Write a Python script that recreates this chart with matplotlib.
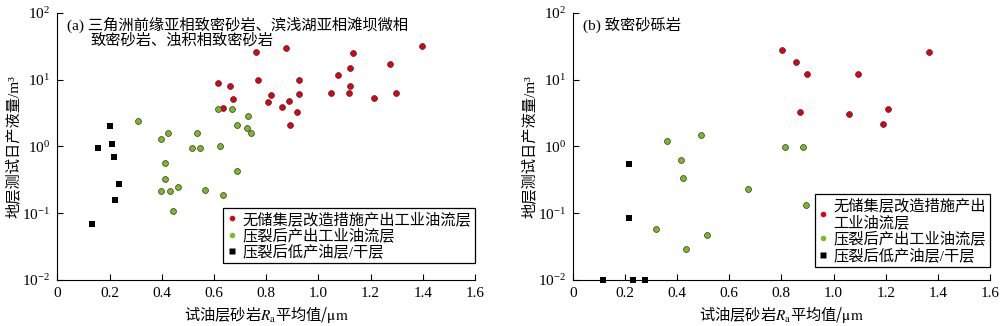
import matplotlib
matplotlib.use("Agg")
import matplotlib.pyplot as plt
from matplotlib.lines import Line2D

plt.rcParams['font.family'] = ['Liberation Serif', 'Noto Sans CJK SC']
plt.rcParams['mathtext.fontset'] = 'stix'
plt.rcParams['font.size'] = 11

##
## (a) sandstone: red = no stimulation, green = after fracturing, black = low/dry
##
a_red_x = [0.762, 0.876, 1.134, 1.396, 1.121, 1.275, 1.074, 0.617, 0.660, 0.770,
           0.925, 1.121, 0.674, 0.819, 0.927, 1.049, 1.116, 1.298, 1.213, 0.807,
           0.889, 0.861, 0.917, 0.634, 0.890]
a_red_y = [26.0, 29.9, 25.0, 32.0, 14.8, 17.2, 11.5, 8.9, 8.05, 9.9,
           9.8, 8.0, 5.2, 5.8, 6.0, 6.2, 6.3, 6.3, 5.3, 4.6,
           4.8, 3.95, 3.3, 3.77, 2.07]
a_green_x = [0.308, 0.614, 0.668, 0.732, 0.687, 0.726, 0.741, 0.396, 0.424, 0.534,
             0.517, 0.547, 0.622, 0.413, 0.690, 0.413, 0.464, 0.397, 0.431, 0.566,
             0.636, 0.444]
a_green_y = [2.38, 3.6, 3.64, 2.83, 2.07, 1.89, 1.56, 1.29, 1.59, 1.56,
             0.93, 0.93, 1.03, 0.57, 0.43, 0.33, 0.246, 0.217, 0.217, 0.22,
             0.187, 0.109]
a_black_x = [0.203, 0.211, 0.155, 0.216, 0.236, 0.222, 0.133]
a_black_y = [2.0, 1.10, 0.93, 0.70, 0.27, 0.155, 0.068]

##
## (b) conglomerate
##
b_red_x = [0.804, 0.856, 0.897, 1.366, 1.095, 0.873, 1.059, 1.209, 1.191]
b_red_y = [27.6, 18.2, 12.0, 25.5, 12.3, 3.28, 3.1, 3.6, 2.17]
b_green_x = [0.360, 0.492, 0.415, 0.815, 0.884, 0.422, 0.673, 0.893, 0.318, 0.514, 0.434]
b_green_y = [1.22, 1.47, 0.63, 0.98, 0.98, 0.336, 0.23, 0.132, 0.059, 0.048, 0.029]
b_black_x = [0.216, 0.217, 0.117, 0.232, 0.278]
b_black_y = [0.55, 0.086, 0.01, 0.01, 0.01]

labels = ['无储集层改造措施产出工业油流层', '压裂后产出工业油流层', '压裂后低产油层/干层']
labels_b = ['无储集层改造措施产出\n工业油流层', '压裂后产出工业油流层', '压裂后低产油层/干层']

red = '#e00010'
green = '#7dba1e'

fig = plt.figure(figsize=(10, 3.26), dpi=100)
ax_a = fig.add_axes([0.0573, 0.141, 0.4177, 0.820])
ax_b = fig.add_axes([0.5727, 0.141, 0.4173, 0.820])


def draw(ax, rx, ry, gx, gy, kx, ky, labs, leg_y):
    ax.scatter(rx, ry, s=18, c=red, edgecolors='#333333', linewidths=0.5, zorder=3, clip_on=False)
    ax.scatter(gx, gy, s=18, c=green, edgecolors='#333333', linewidths=0.5, zorder=3, clip_on=False)
    ax.scatter(kx, ky, s=18, c='black', marker='s', linewidths=0, zorder=3, clip_on=False)
    ax.set_yscale('log')
    ax.set_xlim(0, 1.6)
    ax.set_ylim(0.01, 100)
    ax.set_xticks([0, 0.2, 0.4, 0.6, 0.8, 1.0, 1.2, 1.4, 1.6])
    ax.set_xticklabels(['0', '0.2', '0.4', '0.6', '0.8', '1.0', '1.2', '1.4', '1.6'])
    ax.minorticks_off()
    ax.tick_params(direction='in', length=4, width=0.8, labelsize=11, pad=5)
    ax.spines['top'].set_visible(False)
    ax.spines['right'].set_visible(False)
    # mathtext uses the text's own family for the plain parts, so give it the CJK font
    ax.set_xlabel('试油层砂岩$R_\\mathrm{a}$平均值/$\\mathrm{\\mu m}$', fontsize=11,
                  labelpad=3, family='Noto Sans CJK SC')
    ax.set_ylabel('地层测试日产液量/m³', fontsize=11, labelpad=1)
    handles = [
        Line2D([], [], ls='none', marker='o', ms=4, mfc=red, mec='none'),
        Line2D([], [], ls='none', marker='o', ms=4, mfc=green, mec='none'),
        Line2D([], [], ls='none', marker='s', ms=4, mfc='black', mec='none'),
    ]
    leg = ax.legend(handles, labs, loc='lower right', bbox_to_anchor=(1.0, leg_y),
                    borderaxespad=0, fancybox=False, edgecolor='black', framealpha=1,
                    fontsize=11, handlelength=0.6, handletextpad=0.4, labelspacing=0.1,
                    borderpad=0.25)
    leg.get_frame().set_linewidth(0.9)


draw(ax_a, a_red_x, a_red_y, a_green_x, a_green_y, a_black_x, a_black_y, labels, 0.062)
draw(ax_b, b_red_x, b_red_y, b_green_x, b_green_y, b_black_x, b_black_y, labels_b, 0.05)

ax_a.text(0.023, 0.985, '(a) 三角洲前缘亚相致密砂岩、滨浅湖亚相滩坝微相',
          transform=ax_a.transAxes, ha='left', va='top', fontsize=11)
ax_a.text(0.079, 0.925, '致密砂岩、浊积相致密砂岩',
          transform=ax_a.transAxes, ha='left', va='top', fontsize=11)
ax_b.text(0.025, 0.985, '(b) 致密砂砾岩',
          transform=ax_b.transAxes, ha='left', va='top', fontsize=11)

fig.savefig('out.png', dpi=100)
